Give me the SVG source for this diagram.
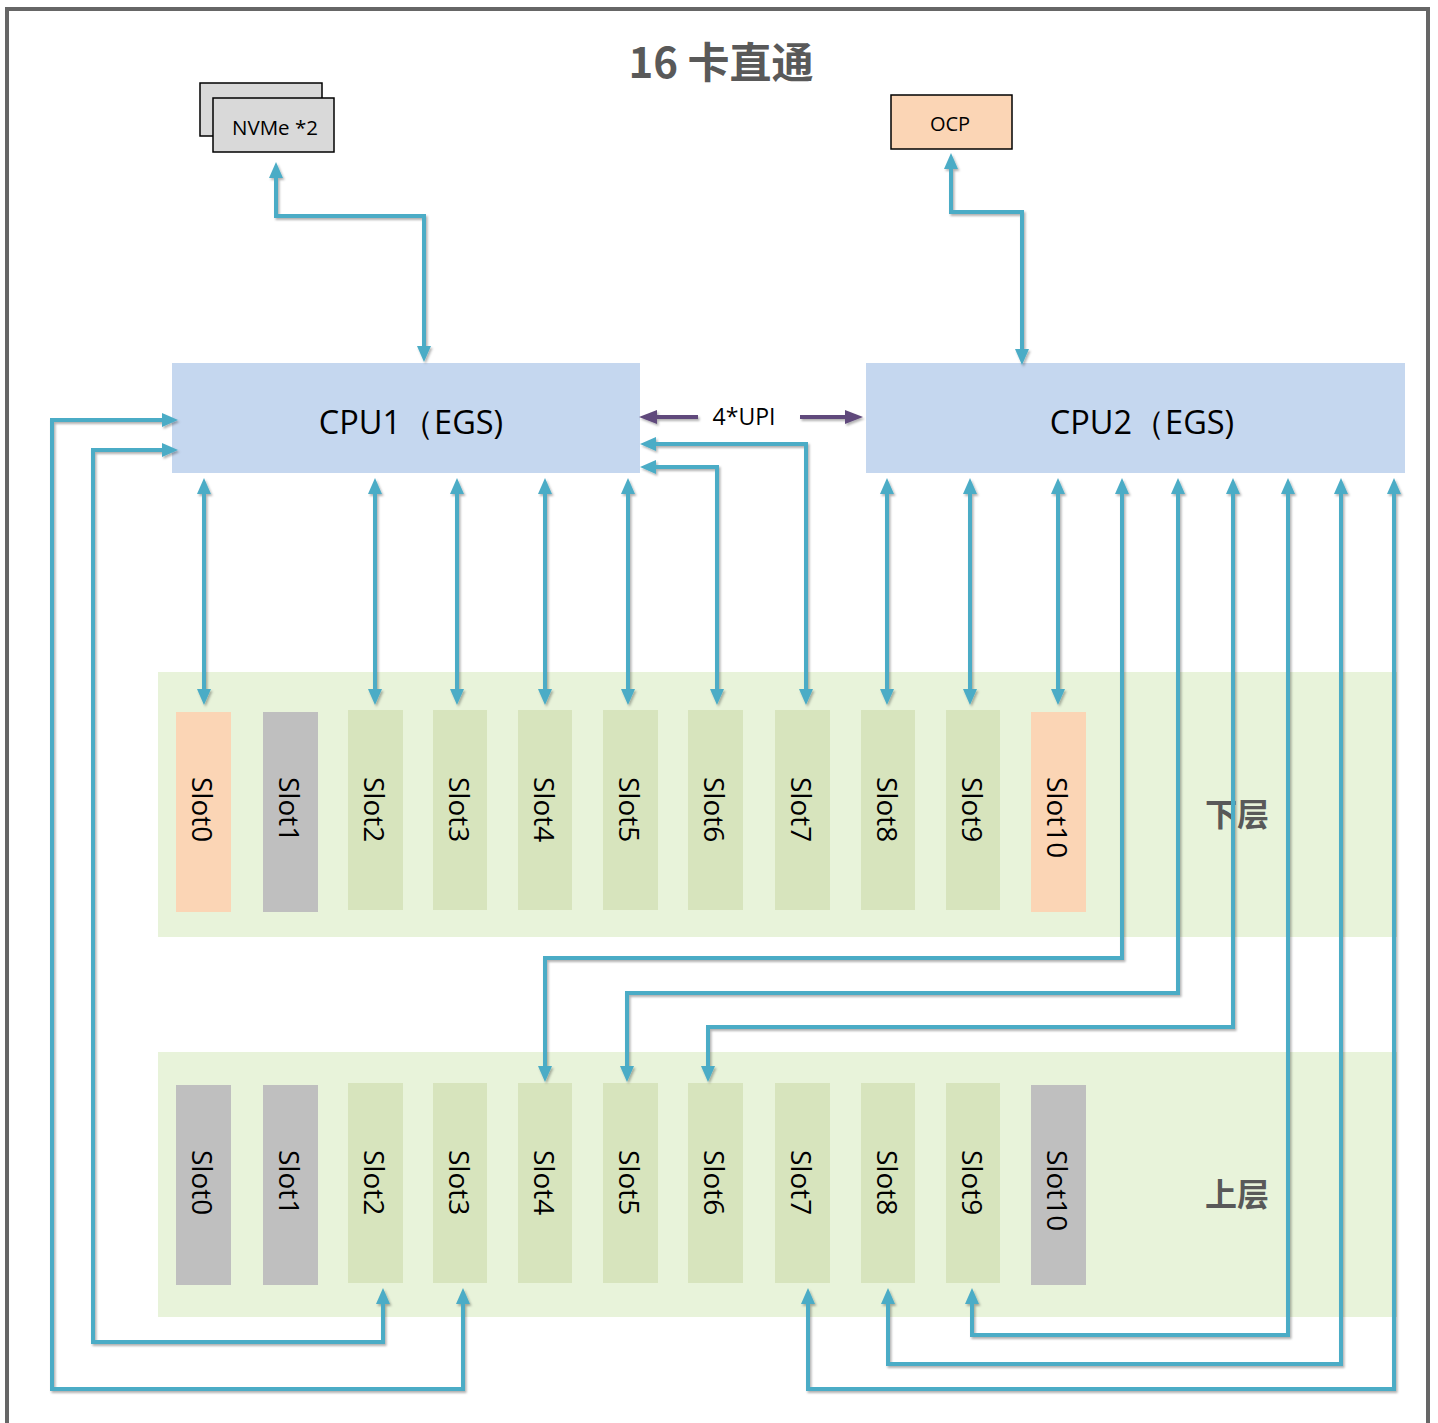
<svg xmlns="http://www.w3.org/2000/svg" width="1438" height="1423" viewBox="0 0 1438 1423">
<style>
.lat{font-family:"Open Sans","Noto Sans",sans-serif;fill:#000}
.cjk{font-family:"Noto Sans CJK SC","Noto Sans",sans-serif;font-weight:bold;fill:#595959}
.slot{font-family:"Open Sans","Noto Sans",sans-serif;font-size:28px;fill:#000}
.peach{fill:#fbd5b5}
.gray{fill:#bfbfbf}
.green{fill:#d7e4bd}
.layer{fill:#e8f3da}
.cpu{fill:#c5d7ef}
.box{stroke:#000;stroke-width:1.5}
.conn path{fill:none;stroke:#4bacc6;stroke-width:4;marker-start:url(#ab);marker-end:url(#ab)}
.upi path{fill:none;stroke:#604a7b;stroke-width:4;marker-end:url(#ap)}
</style>
<defs>
<marker id="ab" markerUnits="userSpaceOnUse" markerWidth="16" markerHeight="14" refX="11" refY="7" orient="auto-start-reverse"><path d="M0,0 L16,7 L0,14 z" fill="#4bacc6"/></marker>
<marker id="ap" markerUnits="userSpaceOnUse" markerWidth="18" markerHeight="14" refX="12" refY="7" orient="auto"><path d="M0,0 L18,7 L0,14 z" fill="#604a7b"/></marker>
<filter id="sh" filterUnits="userSpaceOnUse" x="0" y="0" width="1438" height="1423"><feDropShadow dx="1.5" dy="2" stdDeviation="1.2" flood-color="#000" flood-opacity="0.3"/></filter>
</defs>
<rect x="0" y="0" width="1438" height="1423" fill="#fff"/>
<rect x="7" y="9" width="1421" height="1430" fill="none" stroke="#666" stroke-width="4"/>
<text x="721" y="78" text-anchor="middle" class="cjk" font-size="42">16 卡直通</text>

<g id="layer-lower"><rect class="layer" x="158" y="672" width="1239" height="265"/><text x="1237" y="812" class="cjk" font-size="32" text-anchor="middle" dominant-baseline="central">下层</text></g>
<g id="layer-upper"><rect class="layer" x="158" y="1052" width="1239" height="265"/><text x="1237" y="1192" class="cjk" font-size="32" text-anchor="middle" dominant-baseline="central">上层</text></g>

<g id="nvme"><rect class="box" x="200" y="83" width="122" height="53" fill="#d9d9d9"/><rect class="box" x="213" y="98" width="121" height="54" fill="#d9d9d9"/><text x="275" y="135" class="lat" font-size="20.5" text-anchor="middle">NVMe *2</text></g>
<g id="ocp"><rect class="box peach" x="891" y="95" width="121" height="54"/><text x="950" y="131" class="lat" font-size="20" text-anchor="middle">OCP</text></g>
<g id="cpu1"><rect class="cpu" x="172" y="363" width="468" height="110"/><text x="411" y="434" class="lat" font-size="32.5" text-anchor="middle">CPU1（EGS)</text></g>
<g id="cpu2"><rect class="cpu" x="866" y="363" width="539" height="110"/><text x="1142" y="434" class="lat" font-size="32.5" text-anchor="middle">CPU2（EGS)</text></g>

<g id="lower-slot0"><rect class="peach" x="176" y="712" width="55" height="200"/><text class="slot" transform="translate(203,777) rotate(90)" dominant-baseline="central">Slot0</text></g>
<g id="lower-slot1"><rect class="gray" x="263" y="712" width="55" height="200"/><text class="slot" transform="translate(290,777) rotate(90)" dominant-baseline="central">Slot1</text></g>
<g id="lower-slot2"><rect class="green" x="348" y="710" width="55" height="200"/><text class="slot" transform="translate(375,777) rotate(90)" dominant-baseline="central">Slot2</text></g>
<g id="lower-slot3"><rect class="green" x="433" y="710" width="54" height="200"/><text class="slot" transform="translate(460,777) rotate(90)" dominant-baseline="central">Slot3</text></g>
<g id="lower-slot4"><rect class="green" x="518" y="710" width="54" height="200"/><text class="slot" transform="translate(545,777) rotate(90)" dominant-baseline="central">Slot4</text></g>
<g id="lower-slot5"><rect class="green" x="603" y="710" width="55" height="200"/><text class="slot" transform="translate(630,777) rotate(90)" dominant-baseline="central">Slot5</text></g>
<g id="lower-slot6"><rect class="green" x="688" y="710" width="55" height="200"/><text class="slot" transform="translate(715,777) rotate(90)" dominant-baseline="central">Slot6</text></g>
<g id="lower-slot7"><rect class="green" x="775" y="710" width="55" height="200"/><text class="slot" transform="translate(802,777) rotate(90)" dominant-baseline="central">Slot7</text></g>
<g id="lower-slot8"><rect class="green" x="861" y="710" width="54" height="200"/><text class="slot" transform="translate(888,777) rotate(90)" dominant-baseline="central">Slot8</text></g>
<g id="lower-slot9"><rect class="green" x="946" y="710" width="54" height="200"/><text class="slot" transform="translate(973,777) rotate(90)" dominant-baseline="central">Slot9</text></g>
<g id="lower-slot10"><rect class="peach" x="1031" y="712" width="55" height="200"/><text class="slot" transform="translate(1058,777) rotate(90)" dominant-baseline="central">Slot10</text></g>

<g id="upper-slot0"><rect class="gray" x="176" y="1085" width="55" height="200"/><text class="slot" transform="translate(203,1150) rotate(90)" dominant-baseline="central">Slot0</text></g>
<g id="upper-slot1"><rect class="gray" x="263" y="1085" width="55" height="200"/><text class="slot" transform="translate(290,1150) rotate(90)" dominant-baseline="central">Slot1</text></g>
<g id="upper-slot2"><rect class="green" x="348" y="1083" width="55" height="200"/><text class="slot" transform="translate(375,1150) rotate(90)" dominant-baseline="central">Slot2</text></g>
<g id="upper-slot3"><rect class="green" x="433" y="1083" width="54" height="200"/><text class="slot" transform="translate(460,1150) rotate(90)" dominant-baseline="central">Slot3</text></g>
<g id="upper-slot4"><rect class="green" x="518" y="1083" width="54" height="200"/><text class="slot" transform="translate(545,1150) rotate(90)" dominant-baseline="central">Slot4</text></g>
<g id="upper-slot5"><rect class="green" x="603" y="1083" width="55" height="200"/><text class="slot" transform="translate(630,1150) rotate(90)" dominant-baseline="central">Slot5</text></g>
<g id="upper-slot6"><rect class="green" x="688" y="1083" width="55" height="200"/><text class="slot" transform="translate(715,1150) rotate(90)" dominant-baseline="central">Slot6</text></g>
<g id="upper-slot7"><rect class="green" x="775" y="1083" width="55" height="200"/><text class="slot" transform="translate(802,1150) rotate(90)" dominant-baseline="central">Slot7</text></g>
<g id="upper-slot8"><rect class="green" x="861" y="1083" width="54" height="200"/><text class="slot" transform="translate(888,1150) rotate(90)" dominant-baseline="central">Slot8</text></g>
<g id="upper-slot9"><rect class="green" x="946" y="1083" width="54" height="200"/><text class="slot" transform="translate(973,1150) rotate(90)" dominant-baseline="central">Slot9</text></g>
<g id="upper-slot10"><rect class="gray" x="1031" y="1085" width="55" height="200"/><text class="slot" transform="translate(1058,1150) rotate(90)" dominant-baseline="central">Slot10</text></g>

<g id="connectors">
<g class="upi" filter="url(#sh)">
<path d="M698,417 H645"/>
<path d="M800,417 H857"/>
</g>
<text x="744" y="425" class="lat" font-size="23" text-anchor="middle">4*UPI</text>
<g class="conn" filter="url(#sh)">
<path d="M276,167 V216 H424 V357"/>
<path d="M951,158 V212 H1022 V360"/>
<path d="M204,483 V700"/>
<path d="M375,483 V700"/>
<path d="M457,483 V700"/>
<path d="M545,483 V700"/>
<path d="M628,483 V700"/>
<path d="M645,467 H717 V700"/>
<path d="M645,444 H806 V700"/>
<path d="M887,483 V700"/>
<path d="M970,483 V700"/>
<path d="M1058,483 V700"/>
<path d="M1122,483 V958 H545 V1077"/>
<path d="M1178,483 V993 H627 V1077"/>
<path d="M1233,483 V1027 H708 V1077"/>
<path d="M1288,483 V1335 H972 V1293"/>
<path d="M1341,483 V1364 H888 V1293"/>
<path d="M1394,483 V1389 H808 V1293"/>
<path d="M173,420 H52 V1389 H463 V1293"/>
<path d="M173,450 H93 V1342 H383 V1293"/>
</g>
</g>
</svg>
